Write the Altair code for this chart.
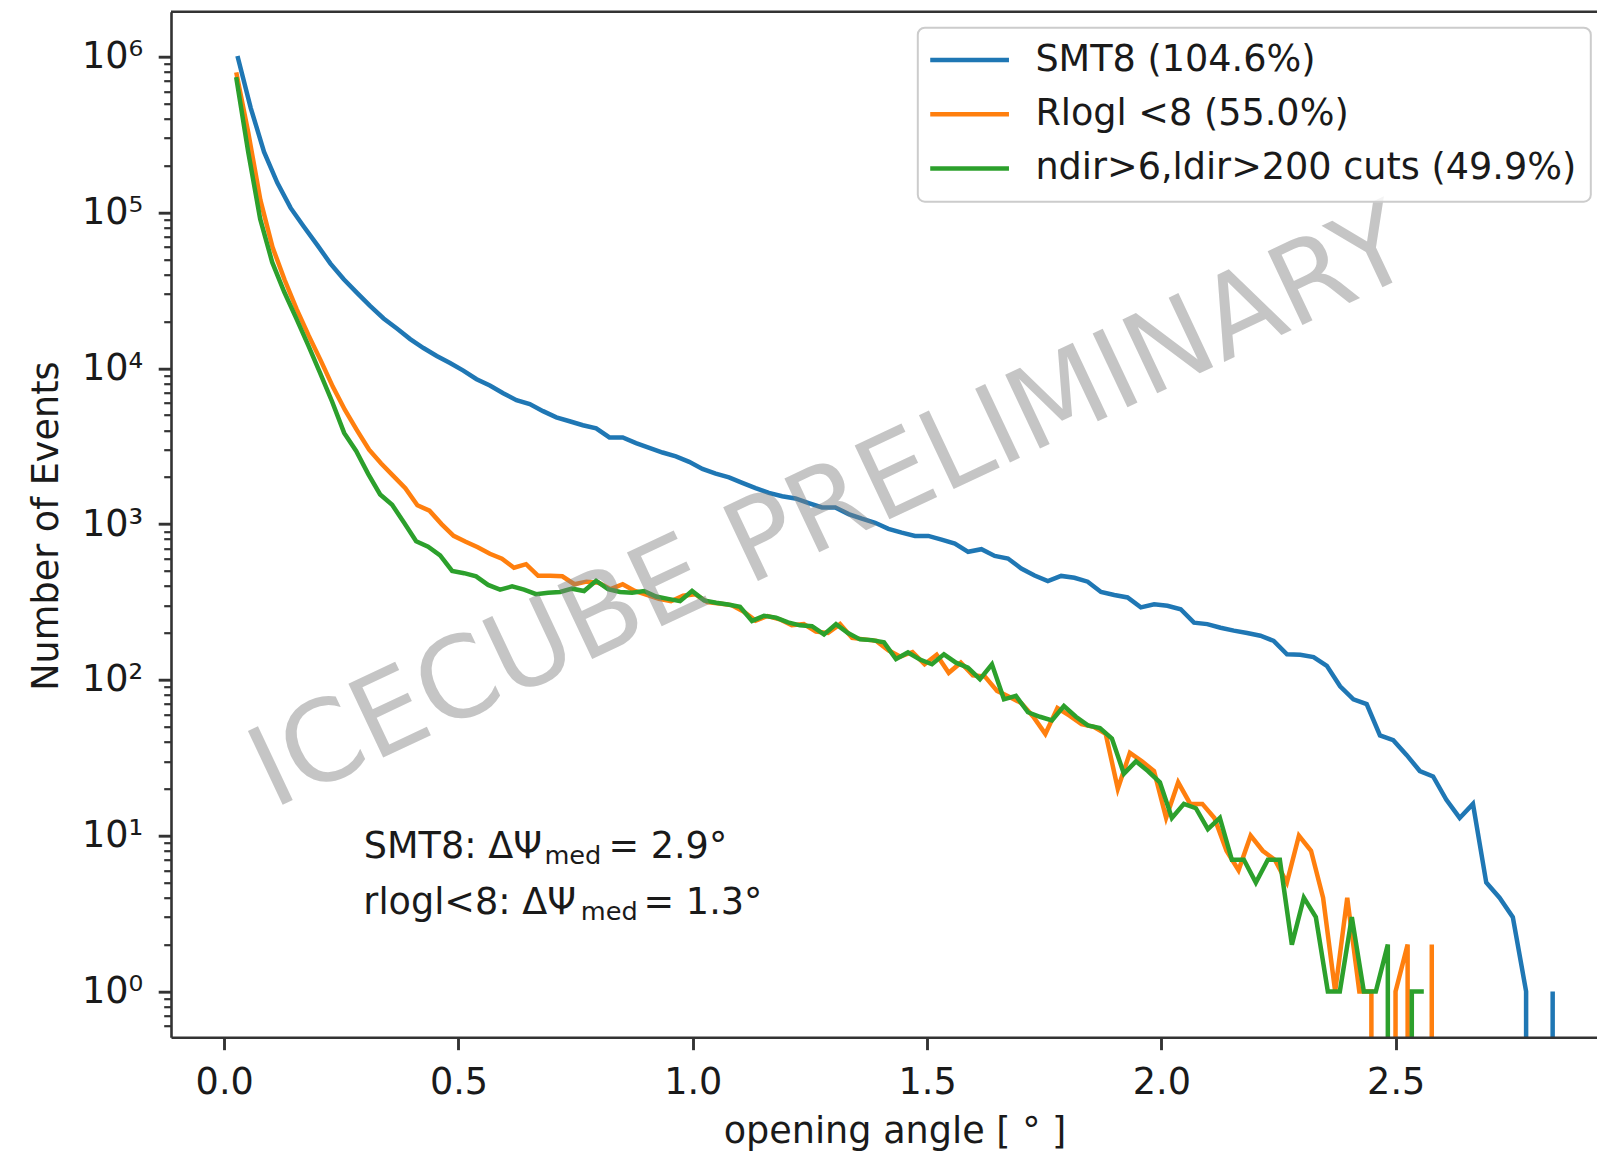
import altair as alt
import pandas as pd

FONT = "DejaVu Sans"

SERIES = ["SMT8 (104.6%)", "Rlogl <8 (55.0%)", "ndir>6,ldir>200 cuts (49.9%)"]
COLORS = ["#1f77b4", "#ff7f0e", "#2ca02c"]

# each histogram: 100 equal bins from 0 to its own upper edge (deg);
# counts are drawn at the right edge of every bin
N_BINS = 100
RANGE_TOP = [2.835, 2.577, 2.560]

SMT8 = [1010000, 468000, 245000, 155000, 107000, 81000, 62000, 47000, 37300, 30500,
        25100, 20900, 18000, 15400, 13500, 12000, 10800, 9660, 8510, 7760,
        6920, 6240, 5890, 5310, 4840, 4570, 4310, 4120, 3600, 3600,
        3310, 3090, 2880, 2720, 2510, 2260, 2110, 1995, 1840, 1700,
        1585, 1510, 1460, 1365, 1280, 1280, 1160, 1085, 1020, 933,
        881, 840, 840, 794, 750, 664, 690, 625, 601, 519,
        468, 431, 465, 452, 427, 367, 351, 338, 292, 306,
        299, 284, 233, 228, 216, 207, 200, 192, 178, 146,
        145, 140, 123, 91, 75, 70, 44, 41, 33, 26,
        24, 17, 13, 16, 5, 4, 3, 1, 0, 1]

RLOGL = [794000, 324000, 120000, 60000, 37000, 24000, 16200, 11200, 7600, 5400,
         4000, 3000, 2450, 2040, 1700, 1320, 1220, 1000, 840, 770,
         710, 645, 600, 525, 553, 466, 466, 462, 411, 427,
         420, 382, 411, 372, 351, 331, 320, 347, 355, 316,
         309, 302, 275, 240, 257, 245, 224, 228, 204, 200,
         228, 186, 182, 178, 155, 141, 151, 126, 145, 111,
         129, 107, 105, 85, 78, 71, 58, 45, 66, 59,
         52, 50, 45, 20, 34, 30, 26, 13, 22, 16,
         16, 13, 8, 6, 10, 8, 7, 5, 10, 8,
         4, 1, 4, 1, 1, 0, 1, 2, 0, 2]

NDIR = [740000, 245000, 91000, 48000, 31000, 21000, 14100, 9300, 6100, 3850,
        2950, 2100, 1550, 1330, 1020, 776, 716, 630, 500, 484,
        462, 407, 380, 398, 380, 355, 363, 367, 385, 372,
        433, 382, 367, 363, 372, 343, 331, 320, 372, 324,
        313, 305, 295, 239, 258, 251, 234, 224, 221, 196,
        228, 200, 182, 180, 174, 136, 150, 135, 126, 146,
        129, 120, 101, 126, 75, 79, 62, 58, 55, 68,
        58, 51, 49, 42, 25, 30, 26, 22, 13, 16,
        15, 11, 13, 7, 7, 5, 7, 7, 2, 4,
        3, 1, 1, 3, 1, 1, 2, 0, 1, 1]

X_TICKS = [0.0, 0.5, 1.0, 1.5, 2.0, 2.5]
Y_TICKS = [0.6, 0.7, 0.8, 0.9] + [m * 10 ** e for e in range(0, 7) for m in range(1, 10) if m * 10 ** e <= 1000000]

NOTE_MAIN_TEXT = ["SMT8: ΔΨ", "= 2.9°", "rlogl<8: ΔΨ", "= 1.3°"]
NOTE_MAIN_X = [0.298, 0.820, 0.297, 0.895]
NOTE_MAIN_Y = [7.14, 7.14, 3.135, 3.135]
NOTE_SUB_TEXT = ["med", "med"]
NOTE_SUB_X = [0.6834, 0.7608]
NOTE_SUB_Y = [7.14, 3.135]

WATERMARK = "ICECUBE PRELIMINARY"
WATERMARK_X = 1.295
WATERMARK_Y = 1246

# ---------------------------------------------------------------- data
rows = []
for label, top, counts in zip(SERIES, RANGE_TOP, [SMT8, RLOGL, NDIR]):
    w = top / N_BINS
    for k, c in enumerate(counts, start=1):
        # empty bins are clipped to a tiny positive value, as a log axis does
        rows.append({"series": label, "angle": k * w, "count": c if c > 0 else 1e-300})
df = pd.DataFrame(rows)

notes = pd.DataFrame({"text": NOTE_MAIN_TEXT, "angle": NOTE_MAIN_X, "count": NOTE_MAIN_Y})
subs = pd.DataFrame({"text": NOTE_SUB_TEXT, "angle": NOTE_SUB_X, "count": NOTE_SUB_Y})
wm = pd.DataFrame({"text": [WATERMARK], "angle": [WATERMARK_X], "count": [WATERMARK_Y]})

# ---------------------------------------------------------------- layout
W, H = 1426, 1025.6
INK = "#1a1a1a"
SPINE = "#333333"

x_scale = alt.Scale(domain=[-0.1135, 2.9296], nice=False, zero=False)
y_scale = alt.Scale(type="log", domain=[0.508, 1.945e6], nice=False)
color_scale = alt.Scale(domain=SERIES, range=COLORS)

is_major = "abs(log(datum.value)/LN10 - round(log(datum.value)/LN10)) < 1e-6"
sup = "['\u2070','\u00b9','\u00b2','\u00b3','\u2074','\u2075','\u2076']"

x_axis = alt.Axis(
    title="opening angle [ ° ]", values=X_TICKS, format=".1f", grid=False,
    domainColor=SPINE, domainWidth=2.6, tickColor=SPINE, tickWidth=2.9, tickSize=12.4,
    labelFont=FONT, labelFontSize=36.6, labelColor=INK, labelPadding=14.4,
    labelFlush=False, labelOverlap=False, labelBaseline="top",
    titleFont=FONT, titleFontSize=36.6, titleFontWeight="normal", titleColor=INK,
    titleX=723.5, titleY=105.7, titleAlign="center", titleBaseline="alphabetic",
    zindex=1,
)
y_axis = alt.Axis(
    title="Number of Events", values=Y_TICKS, grid=False,
    labelExpr=f"({is_major}) ? '10' + {sup}[round(log(datum.value)/LN10)] : ''",
    domainColor=SPINE, domainWidth=2.6, tickColor=SPINE,
    tickSize={"condition": {"test": is_major, "value": 12.8}, "value": 7.3},
    tickWidth={"condition": {"test": is_major, "value": 2.9}, "value": 2.2},
    labelFont=FONT, labelFontSize=36.6, labelColor=INK, labelPadding=15.6,
    labelFlush=False, labelOverlap=False, labelBaseline="middle",
    titleFont=FONT, titleFontSize=36.6, titleFontWeight="normal", titleColor=INK,
    titleX=-114, titleY=513.9, titleAngle=270, titleAlign="center", titleBaseline="alphabetic",
    zindex=1,
)
# a flat line swatch drawn as a custom path, so the row height stays text-sized
legend = alt.Legend(
    title=None, orient="none", legendX=746.8, legendY=16,
    symbolType="M-5,0H5", symbolSize=248, symbolStrokeWidth=4.5, symbolOpacity=1,
    symbolOffset=19.5,
    labelFont=FONT, labelFontSize=36.6, labelColor=INK, labelLimit=2000, labelOffset=47.5,
    padding=14, rowPadding=17.2, fillColor="rgba(255,255,255,0.8)",
    strokeColor="#cccccc", cornerRadius=7,
)

X = alt.X("angle:Q", scale=x_scale, axis=x_axis)
Y = alt.Y("count:Q", scale=y_scale, axis=y_axis)

layers = []
for label in SERIES:
    layers.append(
        alt.Chart(df)
        .transform_filter(alt.datum.series == label)
        .mark_line(strokeWidth=4.5, clip=True)
        .encode(x=X, y=Y, color=alt.Color("series:N", scale=color_scale, legend=legend))
    )

layers.append(
    alt.Chart(notes).mark_text(align="left", baseline="alphabetic", font=FONT, fontSize=36.6, color=INK)
    .encode(x=X, y=Y, text="text:N")
)
layers.append(
    alt.Chart(subs).mark_text(align="left", baseline="alphabetic", font=FONT, fontSize=25.6, color=INK, dy=6)
    .encode(x=X, y=Y, text="text:N")
)
layers.append(
    alt.Chart(wm).mark_text(align="center", baseline="middle", font=FONT, fontSize=112, angle=334.8,
                            color="#808080", opacity=0.45)
    .encode(x=X, y=Y, text="text:N")
)
# top spine of the axes frame
layers.append(
    alt.Chart(wm).mark_rule(color=SPINE, strokeWidth=2.6)
    .encode(x=alt.value(0), x2=alt.value(W), y=alt.value(0))
)

chart = (
    alt.layer(*layers)
    .properties(
        width=W, height=H,
        padding={"left": 171, "top": 11.7, "right": 0, "bottom": 120.7},
        autosize=alt.AutoSizeParams(type="none"),
        background="white",
    )
    .configure(font=FONT)
    .configure_view(stroke=None)
    .configure_legend(strokeWidth=2)
)

chart.save("out.html", embed_options={"renderer": "svg", "actions": False})
